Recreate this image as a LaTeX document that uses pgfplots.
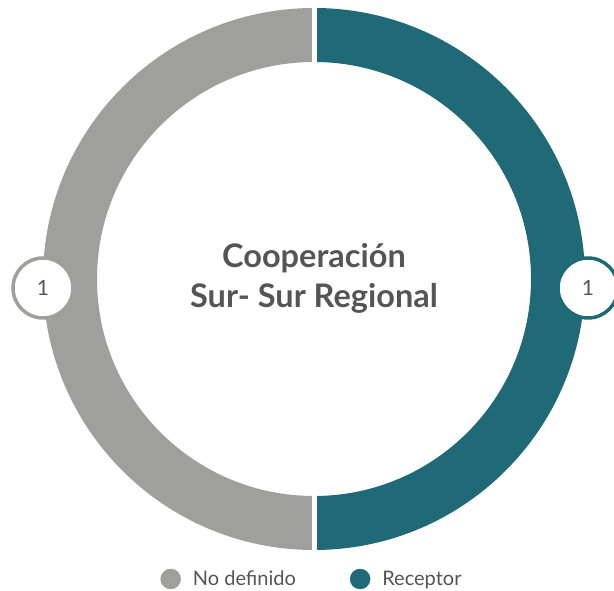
\documentclass[border=0pt]{standalone}
\usepackage{pgfplots}
\usepackage{pgfplotstable}
\pgfplotsset{compat=1.18}
\usepackage{fontspec}
\setmainfont{Lato}
\definecolor{grayc}{HTML}{9F9F9E}
\definecolor{tealc}{HTML}{206A78}
\definecolor{txtc}{HTML}{555555}
\pgfplotstableread{
name value
NoDefinido 1
Receptor 1
}\datatable
\begin{document}
\begin{tikzpicture}
\pgfplotstablegetelem{0}{value}\of\datatable \let\vA\pgfplotsretval
\pgfplotstablegetelem{1}{value}\of\datatable \let\vB\pgfplotsretval
\pgfmathsetmacro\tot{\vA+\vB}
\pgfmathsetmacro\aS{90}
\pgfmathsetmacro\aM{90-360*\vB/\tot}
\pgfmathsetmacro\aE{-270}
\pgfmathsetmacro\mB{(\aS+\aM)/2}
\pgfmathsetmacro\mA{(\aM+\aE)/2}
\def\cx{314}\def\cy{312}\def\Ro{271}\def\Ri{217}
\begin{axis}[
  scale only axis, width=614pt, height=591pt,
  xmin=0, xmax=614, ymin=0, ymax=591,
  hide axis, clip=false,
  legend style={draw=none, fill=none, at={(axis cs:312,12)}, anchor=center,
    font=\fontsize{20}{22}\selectfont\color{txtc},
    /tikz/every even column/.style={column sep=52pt},
    legend cell align=left},
  legend columns=2,
  legend image code/.code={\fill[#1] (0.05cm,0) circle (10pt);},
]
\addlegendimage{grayc}
\addlegendentry{\hspace{10pt}No definido}
\addlegendimage{tealc}
\addlegendentry{\hspace{10pt}Receptor}
% Receptor wedge
\fill[tealc] (axis cs:{\cx+\Ro*cos(\aS)},{\cy+\Ro*sin(\aS)}) arc[start angle=\aS, end angle=\aM, radius=\Ro pt]
  -- (axis cs:{\cx+\Ri*cos(\aM)},{\cy+\Ri*sin(\aM)}) arc[start angle=\aM, end angle=\aS, radius=\Ri pt] -- cycle;
% No definido wedge
\fill[grayc] (axis cs:{\cx+\Ro*cos(\aM)},{\cy+\Ro*sin(\aM)}) arc[start angle=\aM, end angle=\aE, radius=\Ro pt]
  -- (axis cs:{\cx+\Ri*cos(\aE)},{\cy+\Ri*sin(\aE)}) arc[start angle=\aE, end angle=\aM, radius=\Ri pt] -- cycle;
% separators
\draw[white, line width=5pt] (axis cs:{\cx},{\cy}) -- (axis cs:{\cx+(\Ro+3)*cos(\aS)},{\cy+(\Ro+3)*sin(\aS)});
\draw[white, line width=5pt] (axis cs:{\cx},{\cy}) -- (axis cs:{\cx+(\Ro+3)*cos(\aM)},{\cy+(\Ro+3)*sin(\aM)});
% value labels
\node[circle, draw=tealc, line width=3.5pt, fill=white, minimum size=60pt, inner sep=0pt,
  font=\fontsize{21}{23}\selectfont, text=txtc]
  at (axis cs:{\cx+\Ro*cos(\mB)+3},{\cy+\Ro*sin(\mB)-9}) {\vB};
\node[circle, draw=grayc, line width=3.5pt, fill=white, minimum size=60pt, inner sep=0pt,
  font=\fontsize{21}{23}\selectfont, text=txtc]
  at (axis cs:{\cx+\Ro*cos(\mA)},{\cy+\Ro*sin(\mA)-9}) {\vA};
% center title
\node[align=center, font=\bfseries\fontsize{32.5}{40}\selectfont, text=txtc]
  at (axis cs:\cx,{591-278}) {Cooperación\\Sur- Sur Regional};
\end{axis}
\pgfresetboundingbox
\useasboundingbox (0,0) rectangle (614pt,591pt);
\end{tikzpicture}
\end{document}
